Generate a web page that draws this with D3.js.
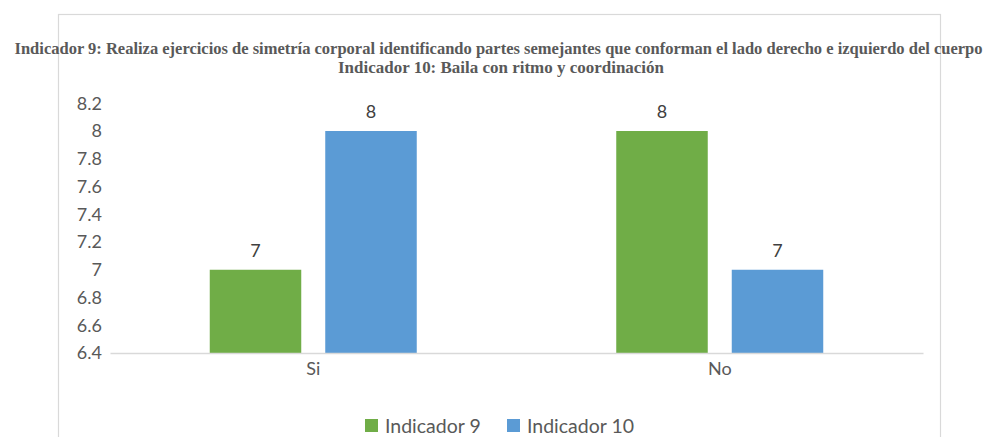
<!DOCTYPE html>
<html>
<head>
<meta charset="utf-8">
<script src="https://cdn.jsdelivr.net/npm/d3@7"></script>
<style>
  body { margin: 0; background: #fff; }
  svg { display: block; }
</style>
</head>
<body>
<script>
'use strict';

// chart data
const categories = ["Si", "No"];
const seriesNames = ["Indicador 9", "Indicador 10"];
const indicador9 = [7, 8];
const indicador10 = [8, 7];
const yTicks = [6.4, 6.6, 6.8, 7, 7.2, 7.4, 7.6, 7.8, 8, 8.2];
const titleLines = [
  "Indicador 9: Realiza ejercicios de simetría corporal identificando partes semejantes que conforman el lado derecho e izquierdo del cuerpo",
  "Indicador 10: Baila con ritmo y coordinación"
];
const colors = ["#70AD47", "#5B9BD5"];

const width = 987, height = 437;
const svg = d3.select('body').append('svg')
  .attr('width', width)
  .attr('height', height);

// chart frame
svg.append('rect')
  .attr('x', 58.5).attr('y', 14.5)
  .attr('width', 882).attr('height', 440)
  .attr('fill', 'none')
  .attr('stroke', '#d9d9d9')
  .attr('stroke-width', 1.2);

// title, fitted to the width it has in the picture and stretched a bit in height
function titleLine(txt, cx, yy, len) {
  svg.append('text')
    .attr('transform', `translate(${cx},${yy}) scale(1,1.13)`)
    .attr('text-anchor', 'middle')
    .attr('textLength', len)
    .attr('lengthAdjust', 'spacingAndGlyphs')
    .style('font-family', '"Liberation Serif", serif')
    .style('font-weight', 'bold')
    .style('font-size', '15px')
    .style('fill', '#595959')
    .text(txt);
}
titleLine(titleLines[0], 498.5, 54, 968);
titleLine(titleLines[1], 501, 73, 326);

// scales
const x0 = d3.scaleBand().domain(categories).range([110, 923]).padding(0);
const y = d3.scaleLinear().domain([6.4, 8.2]).range([353, 103.25]);

const barW = 91.5, barGap = 24;
function barX(cat, s) {
  const c = x0(cat) + x0.bandwidth() / 2;
  return s === 0 ? c - barGap / 2 - barW : c + barGap / 2;
}

// y axis labels (no line)
const yAxis = d3.axisLeft(y).tickValues(yTicks).tickSize(0).tickPadding(0)
  .tickFormat(d3.format('~g'));
const gy = svg.append('g').attr('transform', 'translate(102,0)').call(yAxis);
gy.select('.domain').remove();
gy.selectAll('text')
  .style('font-family', 'Lato, sans-serif')
  .style('font-size', '18px')
  .style('fill', '#595959');

// bars
const series = [indicador9, indicador10];
series.forEach((vals, s) => {
  svg.selectAll('.bar' + s)
    .data(categories)
    .enter()
    .append('rect')
      .attr('x', (d) => barX(d, s))
      .attr('y', (d, i) => y(vals[i]))
      .attr('width', barW)
      .attr('height', (d, i) => y(6.4) - y(vals[i]))
      .attr('fill', colors[s]);

  svg.selectAll('.lbl' + s)
    .data(categories)
    .enter()
    .append('text')
      .attr('x', (d) => barX(d, s) + barW / 2)
      .attr('y', (d, i) => y(vals[i]) - 13)
      .attr('text-anchor', 'middle')
      .style('font-family', 'Lato, sans-serif')
      .style('font-size', '18px')
      .style('fill', '#404040')
      .text((d, i) => vals[i]);
});

// x axis
const xAxis = d3.axisBottom(x0).tickSize(0).tickPadding(9);
const gx = svg.append('g').attr('transform', 'translate(0,353)').call(xAxis);
gx.select('.domain').attr('stroke', '#d9d9d9').attr('stroke-width', 1.5);
gx.selectAll('text')
  .style('font-family', 'Lato, sans-serif')
  .style('font-size', '18px')
  .style('fill', '#595959');

// legend
const legendX = [365, 507];
seriesNames.forEach((name, s) => {
  svg.append('rect')
    .attr('x', legendX[s]).attr('y', 419)
    .attr('width', 13).attr('height', 13)
    .attr('fill', colors[s]);
  svg.append('text')
    .attr('x', legendX[s] + 20).attr('y', 433)
    .style('font-family', 'Lato, sans-serif')
    .style('font-size', '19.5px')
    .style('fill', '#595959')
    .text(name);
});
</script>
</body>
</html>
